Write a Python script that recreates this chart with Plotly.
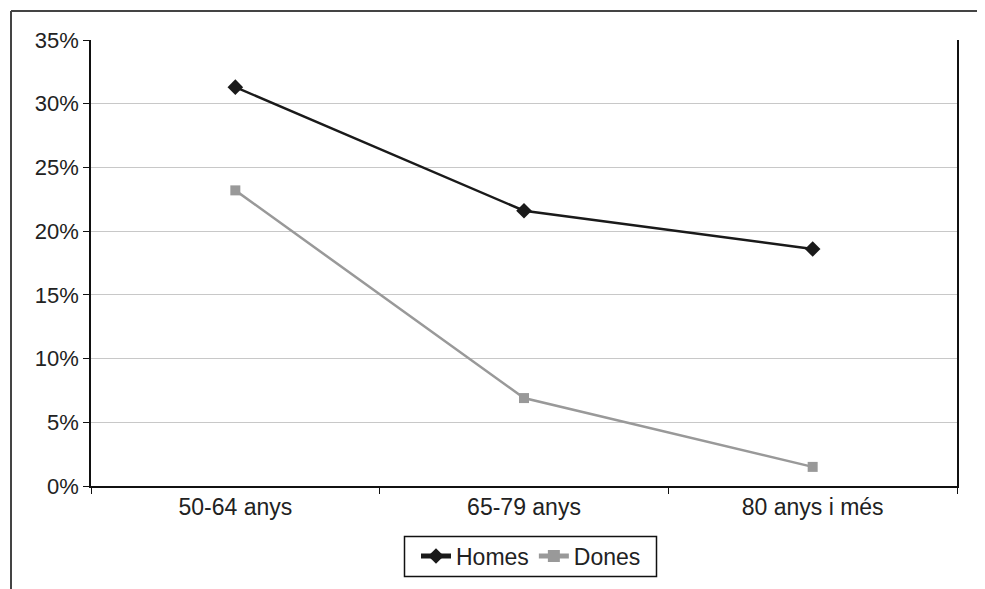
import plotly.graph_objects as go

categories = ["50-64 anys", "65-79 anys", "80 anys i més"]
homes = [31.3, 21.6, 18.6]
dones = [23.2, 6.9, 1.5]
y_ticks = [0, 5, 10, 15, 20, 25, 30, 35]
y_tick_labels = [f"{v}%" for v in y_ticks]

OFF = 8  # default body margin of the page
W, H = 985 - OFF, 589 - OFF
L, R, T, B = 91 - OFF, 28, 40 - OFF, 103
pw, ph = W - L - R, H - T - B

fig = go.Figure()
fig.add_trace(go.Scatter(
    x=categories, y=homes, name="Homes", mode="lines+markers",
    line=dict(color="#1a1a1a", width=2.5),
    marker=dict(symbol="diamond", size=12, color="#1a1a1a"),
))
fig.add_trace(go.Scatter(
    x=categories, y=dones, name="Dones", mode="lines+markers",
    line=dict(color="#999999", width=2.5),
    marker=dict(symbol="square", size=10, color="#999999"),
))

def px_x(p):
    return (p - OFF - L) / pw

def px_y(p):
    return 1 - (p - OFF - T) / ph

def cx(p):
    return (p - OFF) / W

def cy(p):
    return 1 - (p - OFF) / H

shapes = [
    dict(type="line", xref="paper", yref="paper", x0=px_x(11), x1=px_x(985), y0=px_y(11), y1=px_y(11),
         line=dict(color="#444444", width=2)),
    dict(type="line", xref="paper", yref="paper", x0=px_x(11), x1=px_x(11), y0=px_y(11), y1=px_y(589),
         line=dict(color="#444444", width=2)),
    dict(type="rect", xref="paper", yref="paper", x0=px_x(404.5), x1=px_x(656.5), y0=px_y(536.5), y1=px_y(576.5),
         line=dict(color="#111111", width=1.5), fillcolor="rgba(0,0,0,0)"),
]

fig.update_layout(
    width=W, height=H,
    margin=dict(l=L, r=R, t=T, b=B, autoexpand=False),
    paper_bgcolor="white", plot_bgcolor="white",
    font=dict(family="Liberation Sans, Arial, sans-serif", size=22, color="#222222"),
    showlegend=True,
    legend=dict(orientation="h", xref="container", yref="container",
                x=cx(531), xanchor="center", y=cy(556), yanchor="middle",
                borderwidth=0, bgcolor="rgba(0,0,0,0)", font=dict(size=23),
                itemsizing="constant", tracegroupgap=0),
    shapes=shapes,
    xaxis=dict(type="category", range=[-0.5, 2.5], showline=True, linecolor="#111111", linewidth=1.5,
               mirror=False, ticks="outside", tickson="boundaries", ticklen=6, tickcolor="#111111",
               tickfont=dict(size=23), automargin=False,
               showgrid=False, zeroline=False, fixedrange=True),
    yaxis=dict(range=[0, 35], tickvals=y_ticks, ticktext=y_tick_labels, showline=True,
               linecolor="#111111", linewidth=1.5, mirror=True, ticks="outside", ticklen=6,
               tickcolor="#111111", showgrid=True, gridcolor="#c8c8c8", gridwidth=1,
               automargin=False, zeroline=False, fixedrange=True),
)

fig.write_html("out.html")
